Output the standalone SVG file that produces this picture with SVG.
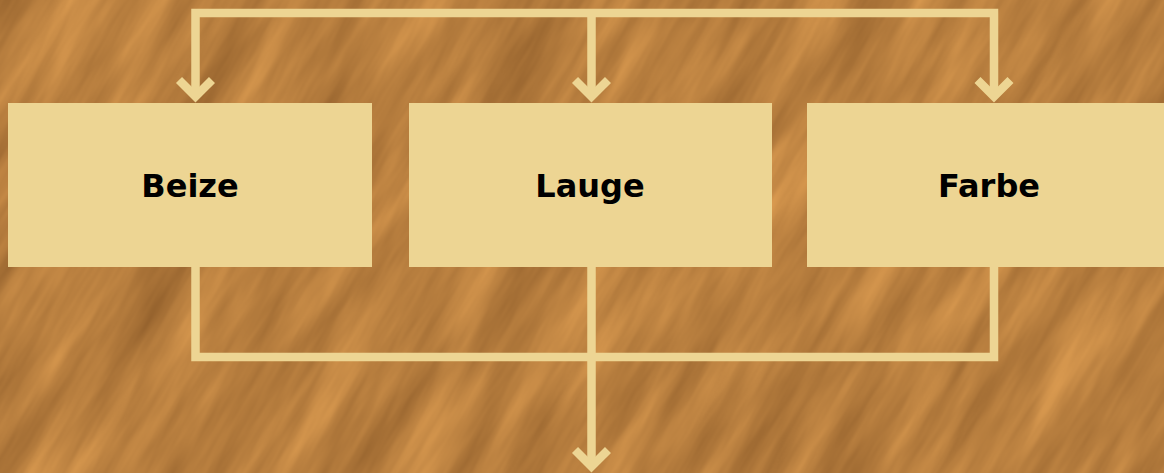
<svg xmlns="http://www.w3.org/2000/svg" width="1164" height="473" viewBox="0 0 1164 473">
  <defs>
    <filter id="wood" x="0" y="0" width="1" height="1" filterUnits="objectBoundingBox" color-interpolation-filters="sRGB">
      <feTurbulence type="fractalNoise" baseFrequency="0.035 0.005" numOctaves="4" seed="11" result="n"/>
      <feColorMatrix in="n" type="matrix" values="0.32 0 0 0 0.56  0.26 0 0 0 0.365  0.16 0 0 0 0.165  0 0 0 0 1"/>
    </filter>
    <style>
      .box { fill: #EDD593; }
      .lbl { font-family: "DejaVu Sans", Verdana, sans-serif; font-weight: bold; font-size: 32px; fill: #000; text-anchor: middle; }
      .wire { fill: none; stroke: #EDD593; stroke-width: 8.5; stroke-linejoin: miter; stroke-linecap: butt; }
    </style>
  </defs>

  <rect x="0" y="0" width="1164" height="473" fill="#B67B3C"/>
  <g transform="rotate(30 582 236)">
    <rect x="-500" y="-700" width="2200" height="1900" filter="url(#wood)"/>
  </g>

  <g id="connectors">
    <path class="wire" d="M195.5,96 V13 H994 V96 M591.5,13 V96"/>
    <polyline class="wire" points="179,80 195.5,96.5 212,80"/>
    <polyline class="wire" points="575,80 591.5,96.5 608,80"/>
    <polyline class="wire" points="977.5,80 994,96.5 1010.5,80"/>
    <path class="wire" d="M195.5,267 V357 H994 V267 M591.5,267 V466"/>
    <polyline class="wire" points="575,450 591.5,466.5 608,450"/>
  </g>

  <g id="node-beize">
    <rect class="box" x="8" y="103" width="364" height="164"/>
    <text class="lbl" x="190" y="197">Beize</text>
  </g>
  <g id="node-lauge">
    <rect class="box" x="409" y="103" width="363" height="164"/>
    <text class="lbl" x="590" y="197">Lauge</text>
  </g>
  <g id="node-farbe">
    <rect class="box" x="807" y="103" width="364" height="164"/>
    <text class="lbl" x="989" y="197">Farbe</text>
  </g>
</svg>
